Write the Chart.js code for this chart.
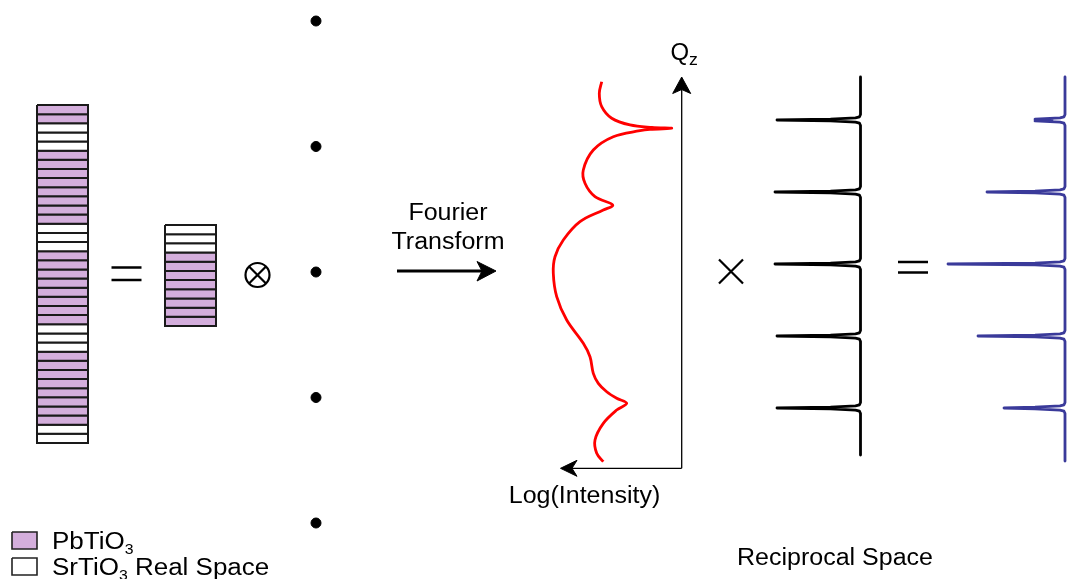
<!DOCTYPE html>
<html>
<head>
<meta charset="utf-8">
<script src="https://cdn.jsdelivr.net/npm/chart.js@4.4.0/dist/chart.umd.min.js"></script>
<style>
html,body{margin:0;padding:0;background:#fff;}
#wrap{width:1069px;height:579px;position:relative;}
</style>
</head>
<body>
<div id="wrap"><canvas id="c" width="1069" height="579"></canvas></div>
<script>
// ---------------- DATA ----------------
// Real-space layer sequence (P = PbTiO3, S = SrTiO3), top to bottom
const superlatticeLayers = ['P','P','S','S','S','P','P','P','P','P','P','P','P','S','S','S','P','P','P','P','P','P','P','P','S','S','S','P','P','P','P','P','P','P','P','S','S'];
const unitCellLayers = ['S','S','S','P','P','P','P','P','P','P','P'];
// Real-space lattice (delta comb) orders
const latticeOrders = [2, 1, 0, -1, -2];
// Fourier-transform envelope of one unit cell: Qz (peak-order units) and log intensity (a.u.)
const envelopeQz   = [2.532, 2.371, 2.185, 2.024, 1.931, 1.897, 1.885, 1.869, 1.851, 1.768, 1.583, 1.306, 1.121, 0.935, 0.819, 0.750, 0.588, 0.333, 0.101, -0.129, -0.454, -0.778, -1.101, -1.288, -1.518, -1.657, -1.774, -1.865, -1.935, -2.028, -2.213, -2.444, -2.629, -2.746];
const envelopeLogI = [80.0, 82.4, 80.0, 70.0, 51.7, 29.7, 10.0, 31.7, 41.7, 68.4, 88.4, 98.4, 96.7, 86.7, 69.0, 78.4, 101.7, 118.4, 126.7, 128.4, 125.0, 115.0, 98.4, 91.7, 88.4, 83.4, 75.0, 65.0, 55.0, 65.0, 78.4, 86.7, 85.0, 78.4];
// Reciprocal lattice peaks and product (superlattice) peaks
const peakOrders = [2, 1, 0, -1, -2];
const latticePeakI = [83.5, 85.5, 85.5, 83.5, 83.5];
const superlatticePeakI = [13, 78, 117, 87, 61];
// Text labels
const legendLabels = ['PbTiO', 'SrTiO'];
const captionLabels = ['Fourier', 'Transform', 'Log(Intensity)', 'Real Space', 'Reciprocal Space'];

// ---------------- LAYOUT / STYLE ----------------
const PURPLE = '#d4aedc';
const LAYER_EDGE = '#1a1a1a';
const BLUE = '#3a3a9a';
const FONT = '"Liberation Sans", Arial, Helvetica, sans-serif';
const TEXT_SX = 1.087;

function rect(x0, x1, y0, y1) {
  return [{x:x0,y:y0},{x:x1,y:y0},{x:x1,y:y1},{x:x0,y:y1},{x:x0,y:y0}];
}
const datasets = [];
function poly(points, o) {
  datasets.push(Object.assign({type:'line', data:points, borderColor:'#000', borderWidth:1.5, pointRadius:0, tension:0, fill:false, borderJoinStyle:'miter'}, o));
}
function stack(layers, x0, x1, top, bottom) {
  const h = (bottom - top) / layers.length;
  layers.forEach((l, i) => {
    poly(rect(x0, x1, top + i*h, top + (i+1)*h), {backgroundColor: l === 'P' ? PURPLE : '#ffffff', fill: 'shape', borderColor: LAYER_EDGE, borderWidth: 2});
  });
}
stack(superlatticeLayers, 37, 88, 105, 443);
stack(unitCellLayers, 165, 216, 225, 326);

// legend squares
poly(rect(12, 37, 532, 549), {backgroundColor: PURPLE, fill:'shape', borderColor:'#222', borderWidth:1.6});
poly(rect(12, 37, 558, 575), {backgroundColor: '#fff', fill:'shape', borderColor:'#222', borderWidth:1.6});

// real-space lattice dots
const DOT_X = 316, DOT_Y0 = 272, DOT_STEP = 125.5;
datasets.push({type:'scatter', data: latticeOrders.map(n => ({x: DOT_X, y: DOT_Y0 - n*DOT_STEP})), pointRadius:5, pointBackgroundColor:'#000', pointBorderColor:'#000', showLine:false});

// operators: '=' , '⊗', '×', '='
datasets.push({type:'scatter', data:[{x:126.5,y:267.5},{x:126.5,y:280}], pointStyle:'line', pointRadius:15, pointBorderWidth:2.5, pointBorderColor:'#000', showLine:false});
datasets.push({type:'scatter', data:[{x:913,y:262},{x:913,y:272.5}], pointStyle:'line', pointRadius:15, pointBorderWidth:2.5, pointBorderColor:'#000', showLine:false});
datasets.push({type:'scatter', data:[{x:257.5,y:275}], pointStyle:'circle', pointRadius:12, pointBorderWidth:2.2, pointBorderColor:'#000', pointBackgroundColor:'rgba(0,0,0,0)', showLine:false});
datasets.push({type:'scatter', data:[{x:257.5,y:275}], pointStyle:'crossRot', pointRadius:12, pointBorderWidth:2.2, pointBorderColor:'#000', showLine:false});
datasets.push({type:'scatter', data:[{x:731,y:271.5}], pointStyle:'crossRot', pointRadius:17, pointBorderWidth:2.2, pointBorderColor:'#000', showLine:false});

// Fourier transform arrow
poly([{x:397,y:271},{x:482,y:271}], {borderWidth:3});
poly([{x:496,y:271},{x:477,y:261.5},{x:482,y:271},{x:477,y:281},{x:496,y:271}], {backgroundColor:'#000', fill:'shape', borderWidth:1});

// reciprocal axes
const AX_X = 681.7, AX_Y = 468.3;
poly([{x:AX_X,y:AX_Y},{x:AX_X,y:88}], {borderWidth:1.3});
poly([{x:AX_X,y:AX_Y},{x:572,y:AX_Y}], {borderWidth:1.3});
poly([{x:AX_X,y:77},{x:690.7,y:93.5},{x:AX_X,y:89.5},{x:672.7,y:93.5},{x:AX_X,y:77}], {backgroundColor:'#000', fill:'shape', borderWidth:1});
poly([{x:560.5,y:AX_Y},{x:577,y:AX_Y-8},{x:572,y:AX_Y},{x:577,y:AX_Y+8},{x:560.5,y:AX_Y}], {backgroundColor:'#000', fill:'shape', borderWidth:1});

// envelope (red)
const QZ_Y0 = 264, QZ_UNIT = 72;
poly(envelopeQz.map((q, i) => ({x: AX_X - envelopeLogI[i], y: QZ_Y0 - q*QZ_UNIT})), {borderColor:'#ff0000', borderWidth:2.8, tension:0.35, borderJoinStyle:'round', borderCapStyle:'butt'});

// peak traces (sharp wedge-shaped peaks pointing left)
function peakTrace(baseX, top, bottom, intens) {
  const pts = [{x:baseX, y:top}];
  peakOrders.forEach((n, i) => {
    const y0 = QZ_Y0 - n*QZ_UNIT, tip = baseX - intens[i];
    pts.push({x:baseX, y:y0-5.5}, {x:baseX-1, y:y0-3.2}, {x:baseX-5, y:y0-2.2}, {x:baseX-30, y:y0-0.9}, {x:tip, y:y0},
             {x:baseX-30, y:y0+0.9}, {x:baseX-5, y:y0+2.2}, {x:baseX-1, y:y0+3.2}, {x:baseX, y:y0+5.5});
  });
  pts.push({x:baseX, y:bottom});
  return pts;
}
poly(peakTrace(860.5, 77, 455, latticePeakI), {borderColor:'#000', borderWidth:2.8, borderJoinStyle:'round'});
poly(peakTrace(1065, 77, 461, superlatticePeakI), {borderColor:BLUE, borderWidth:2.8, borderJoinStyle:'round'});

// ---------------- TEXT ----------------
const texts = [
  {parts:[{t:captionLabels[0]}], x:448, y:220, size:23, align:'center'},
  {parts:[{t:captionLabels[1]}], x:448, y:249, size:23, align:'center'},
  {parts:[{t:captionLabels[2]}], x:584.5, y:503, size:23, align:'center'},
  {parts:[{t:captionLabels[4]}], x:835, y:565, size:23, align:'center'},
  {parts:[{t:'Q'},{t:'z', sub:true, scale:0.72}], x:670.5, y:60, size:23, align:'left', sx:1.04},
  {parts:[{t:legendLabels[0]},{t:'3', sub:true}], x:52, y:549, size:23, align:'left', sx:1.13},
  {parts:[{t:legendLabels[1]},{t:'3', sub:true},{t:' '+captionLabels[3]}], x:52, y:575, size:23, align:'left', sx:1.13}
];
const textPlugin = {
  id:'texts',
  afterDatasetsDraw(chart) {
    const ctx = chart.ctx, sx = chart.scales.x, sy = chart.scales.y;
    ctx.save();
    ctx.fillStyle = '#000';
    ctx.textBaseline = 'alphabetic';
    texts.forEach(item => {
      const fontOf = p => (p.sub ? Math.round(item.size*(p.scale || 0.62)) : item.size) + 'px ' + FONT;
      let w = 0;
      item.parts.forEach(p => { ctx.font = fontOf(p); p.w = ctx.measureText(p.t).width; w += p.w; });
      const px = sx.getPixelForValue(item.x), py = sy.getPixelForValue(item.y);
      ctx.save();
      ctx.translate(px, py);
      ctx.scale(item.sx || TEXT_SX, 1);
      let cx = item.align === 'center' ? -w/2 : 0;
      ctx.textAlign = 'left';
      item.parts.forEach(p => {
        ctx.font = fontOf(p);
        ctx.fillText(p.t, cx, p.sub ? item.size*0.2 : 0);
        cx += p.w;
      });
      ctx.restore();
    });
    ctx.restore();
  }
};

new Chart(document.getElementById('c'), {
  type:'scatter',
  data:{datasets},
  options:{
    responsive:false, maintainAspectRatio:false, animation:false,
    layout:{padding:0, autoPadding:false},
    plugins:{legend:{display:false}, tooltip:{enabled:false}, title:{display:false}},
    scales:{
      x:{type:'linear', min:0, max:1069, display:false},
      y:{type:'linear', min:0, max:579, reverse:true, display:false}
    },
    elements:{point:{radius:0}, line:{capBezierPoints:false}}
  },
  plugins:[textPlugin]
});
</script>
</body>
</html>
